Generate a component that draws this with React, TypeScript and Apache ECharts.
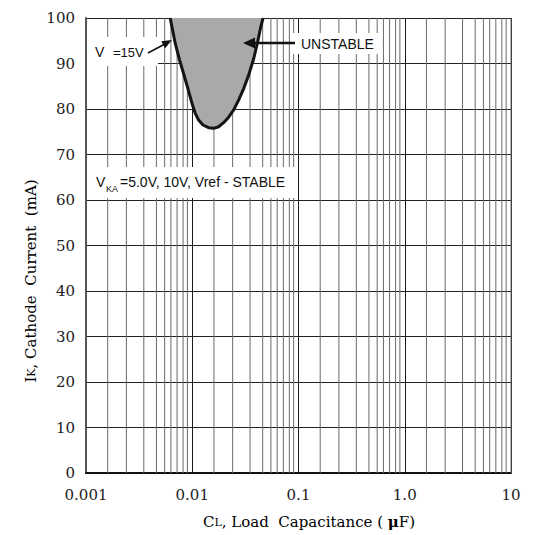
import React, { useEffect, useRef } from "react";
import * as echarts from "echarts";

// X axis (log) tick values and labels
const xTickValues = [0.001, 0.01, 0.1, 1, 10];
const xTickLabels = ["0.001", "0.01", "0.1", "1.0", "10"];
// Y axis ticks
const yTickValues = [0, 10, 20, 30, 40, 50, 60, 70, 80, 90, 100];
// Minor vertical grid lines per decade (as printed on the chart)
const decadeStarts = [0.001, 0.01, 0.1, 1];
const minorMultipliers = [1.6, 2.4, 3.5, 4.6, 5.5, 6.3, 7.2, 8.2, 9.0];

// Boundary of the unstable region (VKA = 15 V)
const unstableCap = [
  0.0062, 0.00692, 0.00759, 0.00828, 0.0091, 0.00994, 0.01067, 0.01147, 0.01262,
  0.01425, 0.01589, 0.0177, 0.01973, 0.022, 0.02455, 0.02736, 0.0305, 0.034,
  0.0379, 0.0413, 0.0438, 0.0464,
];
const unstableCurrent = [
  100, 94.4, 90.8, 87.8, 84.5, 81.25, 79.05, 77.58, 76.48, 75.9, 75.75, 76.1,
  77.0, 78.2, 79.8, 82.0, 84.5, 87.5, 91.1, 94.8, 97.7, 100,
];

const SERIF = "'DejaVu Serif', serif";
const SANS = "'Liberation Sans', Arial, sans-serif";

export default function App() {
  const ref = useRef<HTMLDivElement>(null);

  useEffect(() => {
    if (!ref.current) return;
    const chart = echarts.init(ref.current, undefined, { renderer: "svg" });

    const minorValues: number[][] = [];
    decadeStarts.forEach((d) =>
      minorMultipliers.forEach((m) => minorValues.push([d * m, yTickValues[0]]))
    );
    minorValues.push([xTickValues[xTickValues.length - 1], yTickValues[0]]);

    const yMin = yTickValues[0];
    const yMax = yTickValues[yTickValues.length - 1];

    const option: any = {
      animation: false,
      backgroundColor: "#ffffff",
      grid: { left: 86, right: 27, top: 18, bottom: 62, containLabel: false },
      xAxis: {
        type: "log",
        logBase: 10,
        min: xTickValues[0],
        max: xTickValues[xTickValues.length - 1],
        axisLine: { show: true, lineStyle: { color: "#111", width: 2 } },
        axisTick: { show: false },
        splitLine: { show: true, lineStyle: { color: "#1a1a1a", width: 1 } },
        axisLabel: {
          margin: 14,
          fontFamily: SERIF,
          fontSize: 15,
          color: "#222",
          formatter: (v: number) => {
            const i = xTickValues.findIndex((t) => Math.abs(Math.log10(t) - Math.log10(v)) < 1e-6);
            return i >= 0 ? xTickLabels[i] : "";
          },
        },
      },
      yAxis: {
        type: "value",
        min: yMin,
        max: yMax,
        interval: 10,
        axisLine: { show: true, lineStyle: { color: "#555", width: 2 } },
        axisTick: { show: false },
        splitLine: { show: true, lineStyle: { color: "#222", width: 1 } },
        axisLabel: {
          margin: 11,
          fontFamily: SERIF,
          fontSize: 15,
          color: "#222",
        },
      },
      series: [
        {
          type: "custom",
          z: 1,
          silent: true,
          data: minorValues,
          renderItem: (_params: any, api: any) => {
            const v = api.value(0);
            const p1 = api.coord([v, yMin]);
            const p2 = api.coord([v, yMax]);
            return {
              type: "line",
              shape: { x1: p1[0], y1: p1[1], x2: p2[0], y2: p2[1] },
              style: { stroke: "#6a6a6a", lineWidth: 1 },
            };
          },
        },
        {
          type: "custom",
          z: 5,
          silent: true,
          data: [[unstableCap[0], unstableCurrent[0]]],
          renderItem: (_params: any, api: any) => {
            const pts = unstableCap.map((c, i) => api.coord([c, unstableCurrent[i]]));
            return {
              type: "group",
              children: [
                {
                  type: "polygon",
                  shape: { points: pts },
                  style: { fill: "#a9a9a9", stroke: null },
                },
                {
                  type: "polyline",
                  shape: { points: pts },
                  style: { stroke: "#141414", lineWidth: 3, fill: null, lineJoin: "round" },
                },
              ],
            };
          },
        },
      ],
      graphic: [
        // white label boxes
        { type: "rect", z: 100, shape: { x: 87, y: 37, width: 71, height: 29 }, style: { fill: "#fff" } },
        { type: "rect", z: 100, shape: { x: 292, y: 33, width: 88, height: 21 }, style: { fill: "#fff" } },
        { type: "rect", z: 100, shape: { x: 87, y: 167, width: 209, height: 31 }, style: { fill: "#fff" } },
        // V  =15V
        { type: "text", z: 101, x: 95, y: 52, style: { text: "V", font: `14px ${SANS}`, fill: "#111", verticalAlign: "middle" } },
        { type: "text", z: 101, x: 113, y: 52, style: { text: "=15V", font: `13px ${SANS}`, fill: "#111", verticalAlign: "middle" } },
        { type: "line", z: 101, shape: { x1: 148, y1: 53, x2: 164, y2: 44.5 }, style: { stroke: "#111", lineWidth: 1.5 } },
        { type: "polygon", z: 101, shape: { points: [[172, 40], [165.1, 48.3], [161.3, 41.3]] }, style: { fill: "#111" } },
        // UNSTABLE
        { type: "text", z: 101, x: 301, y: 44, style: { text: "UNSTABLE", font: `14px ${SANS}`, fill: "#111", verticalAlign: "middle" } },
        { type: "line", z: 101, shape: { x1: 295, y1: 43, x2: 252, y2: 43 }, style: { stroke: "#111", lineWidth: 2.5 } },
        { type: "polygon", z: 101, shape: { points: [[243, 43], [255, 37.5], [255, 48.5]] }, style: { fill: "#111" } },
        // VKA=5.0V, 10V, Vref - STABLE
        { type: "text", z: 101, x: 96, y: 182, style: { text: "V", font: `14px ${SANS}`, fill: "#111", verticalAlign: "middle" } },
        { type: "text", z: 101, x: 106, y: 189, style: { text: "KA", font: `9px ${SANS}`, fill: "#111", verticalAlign: "middle" } },
        { type: "text", z: 101, x: 120, y: 182, style: { text: "=5.0V, 10V, Vref - STABLE", font: `14px ${SANS}`, fill: "#111", verticalAlign: "middle" } },
        // axis names
        {
          type: "text",
          z: 101,
          x: 309,
          y: 522,
          style: {
            text: "{a|C}{b|L}{a|, Load  Capacitance ( }{m|μ}{a|F)}",
            align: "center",
            verticalAlign: "middle",
            rich: {
              a: { fontFamily: SERIF, fontSize: 15, color: "#222" },
              b: { fontFamily: SERIF, fontSize: 11, color: "#222" },
              m: { fontFamily: SERIF, fontSize: 15, fontWeight: "bold", color: "#222" },
            },
          },
        },
        {
          type: "text",
          z: 101,
          x: 31,
          y: 281,
          rotation: Math.PI / 2,
          style: {
            text: "{a|I}{b|K}{a|, Cathode  Current  (mA)}",
            align: "center",
            verticalAlign: "middle",
            rich: {
              a: { fontFamily: SERIF, fontSize: 15, color: "#222" },
              b: { fontFamily: SERIF, fontSize: 11, color: "#222" },
            },
          },
        },
      ],
    };

    chart.setOption(option);
    return () => chart.dispose();
  }, []);

  return (
    <div
      ref={ref}
      style={{ position: "fixed", left: 0, top: 0, width: 538, height: 535, background: "#fff" }}
    />
  );
}
